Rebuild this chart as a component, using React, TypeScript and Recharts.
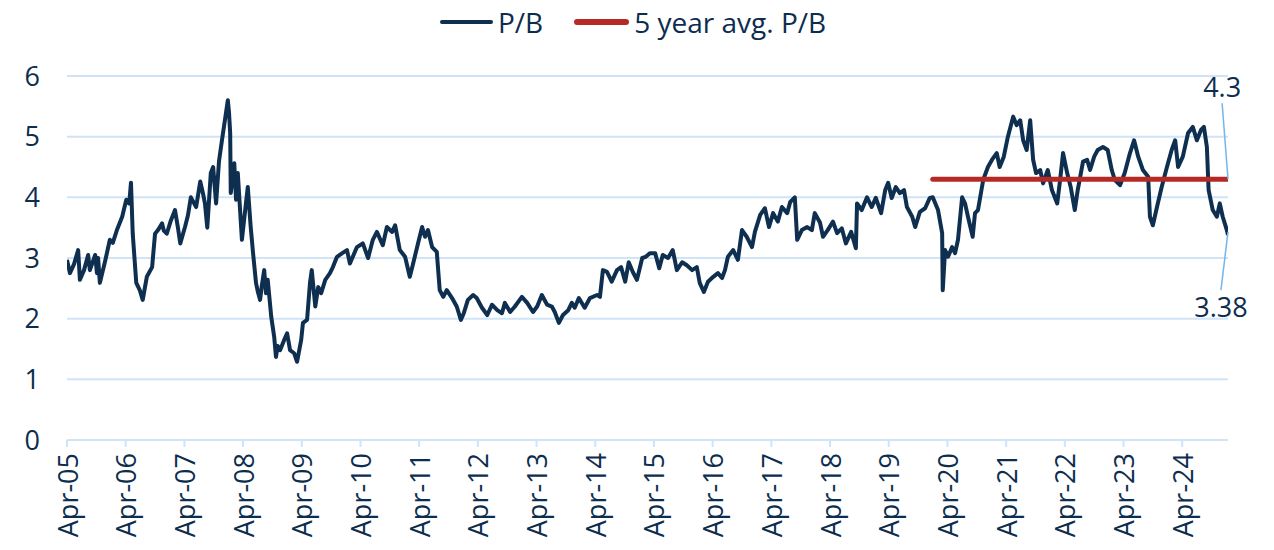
import {
  LineChart,
  Line,
  XAxis,
  YAxis,
  CartesianGrid,
  ReferenceLine,
  ReferenceDot,
} from 'recharts';

// Observation dates as decimal years (Apr-05 = 2005.25)
const pbDates = [
  2005.25, 2005.30, 2005.37, 2005.44, 2005.47, 2005.54, 2005.61, 2005.64, 2005.73, 2005.76, 2005.78, 2005.81, 2005.90, 2005.98,
  2006.03, 2006.10, 2006.19, 2006.26, 2006.31, 2006.34, 2006.37, 2006.43, 2006.49, 2006.54, 2006.61, 2006.70, 2006.75, 2006.80, 2006.87, 2006.90, 2006.95,
  2007.02, 2007.09, 2007.14, 2007.18, 2007.26, 2007.31, 2007.36, 2007.45, 2007.52, 2007.57, 2007.60, 2007.64, 2007.70, 2007.74, 2007.79, 2007.84, 2007.89, 2007.94, 2007.99,
  2008.01, 2008.03, 2008.04, 2008.10, 2008.13, 2008.16, 2008.23, 2008.28, 2008.33, 2008.38, 2008.42, 2008.47, 2008.50, 2008.54, 2008.57, 2008.61, 2008.64, 2008.67, 2008.73, 2008.78, 2008.81, 2008.84, 2008.88, 2008.95,
  2009.00, 2009.05, 2009.12, 2009.17, 2009.24, 2009.27, 2009.34, 2009.39, 2009.42, 2009.48, 2009.53, 2009.58, 2009.65, 2009.73, 2009.78, 2009.85, 2009.94,
  2010.02, 2010.07, 2010.19, 2010.29, 2010.38, 2010.46, 2010.53, 2010.63, 2010.70, 2010.79, 2010.84, 2010.92,
  2011.01, 2011.09, 2011.14, 2011.23, 2011.30, 2011.35, 2011.40, 2011.47, 2011.55, 2011.60, 2011.66, 2011.72, 2011.81, 2011.89, 2011.96,
  2012.01, 2012.08, 2012.17, 2012.23, 2012.32, 2012.41, 2012.49, 2012.58, 2012.66, 2012.71, 2012.80, 2012.88,
  2013.00, 2013.09, 2013.19, 2013.26, 2013.34, 2013.43, 2013.51, 2013.56, 2013.63, 2013.70, 2013.79, 2013.85, 2013.90, 2013.97,
  2014.07, 2014.16, 2014.28, 2014.33, 2014.38, 2014.45, 2014.53, 2014.62, 2014.69, 2014.76, 2014.82, 2014.89, 2014.96,
  2015.05, 2015.11, 2015.18, 2015.27, 2015.34, 2015.40, 2015.49, 2015.57, 2015.64, 2015.73, 2015.81, 2015.90, 2015.98,
  2016.03, 2016.10, 2016.17, 2016.26, 2016.34, 2016.41, 2016.46, 2016.51, 2016.60, 2016.68, 2016.75, 2016.83, 2016.92, 2016.97,
  2017.06, 2017.14, 2017.21, 2017.28, 2017.36, 2017.43, 2017.52, 2017.57, 2017.65, 2017.69, 2017.77, 2017.86, 2017.94, 2017.99,
  2018.08, 2018.13, 2018.21, 2018.30, 2018.37, 2018.45, 2018.52, 2018.61, 2018.69, 2018.71, 2018.79, 2018.88, 2018.96,
  2019.03, 2019.12, 2019.19, 2019.24, 2019.30, 2019.37, 2019.44, 2019.51, 2019.56, 2019.65, 2019.70, 2019.78, 2019.87, 2019.95,
  2020.00, 2020.09, 2020.16, 2020.17, 2020.21, 2020.26, 2020.33, 2020.38, 2020.43, 2020.50, 2020.55, 2020.60, 2020.68, 2020.72, 2020.77, 2020.86, 2020.94,
  2021.01, 2021.09, 2021.14, 2021.21, 2021.28, 2021.37, 2021.43, 2021.49, 2021.54, 2021.60, 2021.66, 2021.71, 2021.76, 2021.83, 2021.88, 2021.96,
  2022.03, 2022.12, 2022.17, 2022.22, 2022.29, 2022.35, 2022.42, 2022.47, 2022.56, 2022.63, 2022.68, 2022.75, 2022.81, 2022.90, 2022.98,
  2023.05, 2023.10, 2023.19, 2023.27, 2023.36, 2023.43, 2023.50, 2023.58, 2023.67, 2023.70, 2023.75, 2023.82, 2023.90, 2023.99,
  2024.07, 2024.13, 2024.18, 2024.26, 2024.35, 2024.43, 2024.50, 2024.57, 2024.62, 2024.67, 2024.70, 2024.77, 2024.84, 2024.89, 2024.94,
  2025.01, 2025.03,
];

const pbValues = [
  2.97, 2.75, 2.9, 3.13, 2.64, 2.8, 3.05, 2.8, 3.05, 2.75, 3.0, 2.59, 2.95, 3.3,
  3.25, 3.46, 3.68, 3.96, 3.9, 4.24, 3.4, 2.59, 2.47, 2.31, 2.69, 2.85, 3.4, 3.46, 3.57, 3.45, 3.4,
  3.62, 3.79, 3.5, 3.24, 3.51, 3.7, 4.0, 3.84, 4.26, 4.05, 3.9, 3.5, 4.4, 4.5, 3.9, 4.6, 4.94, 5.27, 5.6,
  5.4, 5.06, 4.07, 4.56, 3.96, 4.4, 3.3, 3.74, 4.17, 3.51, 3.08, 2.59, 2.45, 2.31, 2.55, 2.8, 2.42, 2.64, 2.03, 1.7, 1.37, 1.55, 1.48, 1.65,
  1.76, 1.48, 1.43, 1.29, 1.65, 1.93, 1.98, 2.59, 2.8, 2.2, 2.52, 2.42, 2.64, 2.75, 2.85, 3.02, 3.08,
  3.13, 2.91, 3.18, 3.24, 3.0, 3.3, 3.43, 3.21, 3.51, 3.43, 3.54, 3.13,
  3.02, 2.69, 2.88, 3.24, 3.51, 3.35, 3.46, 3.18, 3.1, 2.47, 2.36, 2.47, 2.34, 2.2, 1.98,
  2.09, 2.31, 2.39, 2.34, 2.18, 2.06, 2.23, 2.14, 2.09, 2.26, 2.11, 2.2,
  2.36, 2.26, 2.11, 2.2, 2.39, 2.23, 2.2, 2.11, 1.93, 2.06, 2.14, 2.26, 2.18, 2.34,
  2.18, 2.34, 2.39, 2.36, 2.8, 2.77, 2.61, 2.8, 2.85, 2.61, 2.93, 2.77, 2.64,
  3.0, 3.02, 3.08, 3.08, 2.83, 3.05, 3.0, 3.13, 2.8, 2.93, 2.88, 2.8, 2.85,
  2.59, 2.44, 2.61, 2.69, 2.75, 2.67, 2.8, 3.02, 3.13, 2.97, 3.46, 3.35, 3.18, 3.43,
  3.71, 3.82, 3.51, 3.74, 3.6, 3.84, 3.74, 3.92, 4.0, 3.3, 3.46, 3.51, 3.46, 3.74,
  3.58, 3.35, 3.46, 3.6, 3.41, 3.49, 3.24, 3.43, 3.16, 3.9, 3.79, 4.0, 3.84,
  3.99, 3.74, 4.12, 4.24, 3.99, 4.17, 4.07, 4.12, 3.84, 3.68, 3.51, 3.76, 3.82, 3.99,
  4.0, 3.79, 3.41, 2.47, 3.13, 3.02, 3.18, 3.08, 3.3, 4.0, 3.9, 3.68, 3.35, 3.74, 3.79, 4.29, 4.5,
  4.62, 4.73, 4.5, 4.67, 5.0, 5.33, 5.19, 5.27, 4.94, 4.78, 5.27, 4.62, 4.4, 4.45, 4.23, 4.45,
  4.12, 3.9, 4.29, 4.73, 4.4, 4.17, 3.79, 4.12, 4.59, 4.62, 4.45, 4.67, 4.78, 4.83, 4.78,
  4.45, 4.29, 4.2, 4.4, 4.73, 4.94, 4.67, 4.45, 4.34, 3.68, 3.54, 3.84, 4.17, 4.5,
  4.78, 4.94, 4.5, 4.67, 5.06, 5.16, 4.94, 5.11, 5.16, 4.83, 4.12, 3.79, 3.68, 3.9, 3.68,
  3.46, 3.38,
];

const avgStart = 2020.0;
const avgValue = 4.3;
const lastValue = 3.38;

const yearLabels = [
  'Apr-05', 'Apr-06', 'Apr-07', 'Apr-08', 'Apr-09', 'Apr-10', 'Apr-11', 'Apr-12', 'Apr-13', 'Apr-14',
  'Apr-15', 'Apr-16', 'Apr-17', 'Apr-18', 'Apr-19', 'Apr-20', 'Apr-21', 'Apr-22', 'Apr-23', 'Apr-24',
];
const yearTicks = yearLabels.map((_, i) => 2005.25 + i);
const yTicks = [0, 1, 2, 3, 4, 5, 6];

const chartData = pbDates.map((date, i) => ({
  date,
  pb: pbValues[i],
  avg: date >= avgStart ? avgValue : null,
}));

const lastDate = pbDates[pbDates.length - 1];

const textColor = '#0d2d4f';
const gridColor = '#cfe4f7';
const leaderColor = '#74b5ea';
const font = '"Open Sans", "Noto Sans", sans-serif';

const XTick = (props: any) => {
  const { x, y, payload } = props;
  const idx = yearTicks.indexOf(payload.value);
  return (
    <text
      x={x}
      y={y}
      transform={`rotate(-90, ${x}, ${y})`}
      textAnchor="end"
      dominantBaseline="central"
      fill={textColor}
      fontSize={27}
      fontFamily={font}
    >
      {yearLabels[idx] ?? ''}
    </text>
  );
};

function App() {
  return (
    <div style={{ position: 'absolute', left: 0, top: 0, width: 1274, height: 550, background: '#fff', fontFamily: font }}>
      {/* legend */}
      <div style={{ position: 'absolute', left: 440, top: 0, height: 44, display: 'flex', alignItems: 'center', color: textColor, fontSize: 28 }}>
        <span style={{ display: 'inline-block', width: 53, height: 4, background: '#0e2f50', borderRadius: 2, marginRight: 5 }} />
        <span>P/B</span>
        <span style={{ display: 'inline-block', width: 55, height: 6, background: '#b52a25', borderRadius: 3, marginLeft: 31, marginRight: 5 }} />
        <span>5 year avg. P/B</span>
      </div>
      <LineChart width={1274} height={550} data={chartData} margin={{ top: 76, right: 46, bottom: 0, left: 0 }}>
        <CartesianGrid vertical={false} stroke={gridColor} strokeWidth={2} />
        <XAxis
          dataKey="date"
          type="number"
          domain={[2005.25, lastDate]}
          ticks={yearTicks}
          interval={0}
          height={110}
          tick={<XTick />}
          tickSize={7}
          tickMargin={6}
          stroke={gridColor}
          strokeWidth={2}
          allowDataOverflow
        />
        <YAxis
          type="number"
          domain={[0, 6]}
          ticks={yTicks}
          width={67}
          axisLine={false}
          tickLine={false}
          tickSize={6}
          tickMargin={21}
          tick={{ fill: textColor, fontSize: 27, fontFamily: font }}
        />
        <Line
          type="linear"
          dataKey="pb"
          stroke="#0e2f50"
          strokeWidth={4}
          strokeLinejoin="round"
          dot={false}
          isAnimationActive={false}
        />
        <Line
          type="linear"
          dataKey="avg"
          stroke="#b52a25"
          strokeWidth={5}
          strokeLinecap="round"
          dot={false}
          connectNulls={false}
          isAnimationActive={false}
        />
        <ReferenceLine
          segment={[{ x: lastDate, y: avgValue }, { x: 2024.93, y: 5.55 }]}
          stroke={leaderColor}
          strokeWidth={1.5}
        />
        <ReferenceLine
          segment={[{ x: lastDate, y: lastValue + 0.05 }, { x: 2024.91, y: 2.47 }]}
          stroke={leaderColor}
          strokeWidth={1.5}
        />
        <ReferenceDot
          x={2024.93}
          y={5.55}
          r={0}
          label={{ value: String(avgValue), position: 'top', offset: 6, fill: textColor, fontSize: 27, fontFamily: font }}
        />
        <ReferenceDot
          x={2024.91}
          y={2.47}
          r={0}
          label={{ value: String(lastValue), position: 'bottom', offset: 8, fill: textColor, fontSize: 27, fontFamily: font }}
        />
      </LineChart>
    </div>
  );
}

export default App;
